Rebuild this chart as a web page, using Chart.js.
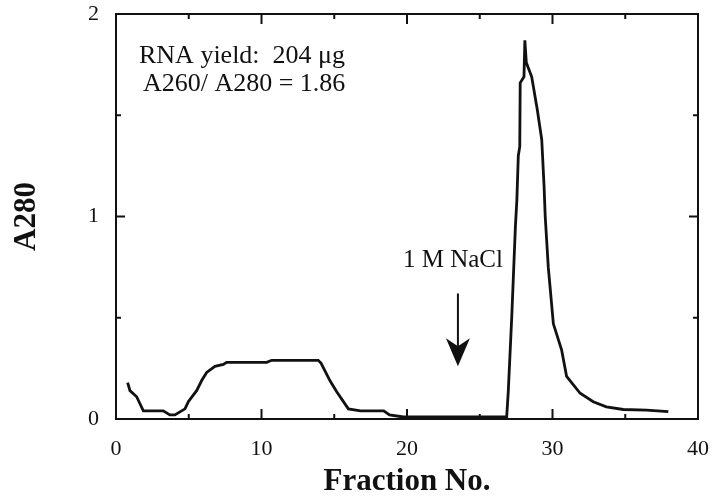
<!DOCTYPE html>
<html>
<head>
<meta charset="utf-8">
<script src="https://cdn.jsdelivr.net/npm/chart.js@4.4.1/dist/chart.umd.min.js"></script>
<style>
  html, body { margin: 0; padding: 0; background: #fff; }
  #wrap { width: 713px; height: 503px; }
</style>
</head>
<body>
<div id="wrap"><canvas id="chart"></canvas></div>
<script>
// fraction number / absorbance read from the elution profile
var fractionNo = [0.8, 0.96, 1.42, 1.88, 3.25, 3.7, 4.05, 4.74, 4.97, 5.54, 5.89, 6.23, 6.8, 7.38, 7.6,
  10.36, 10.7, 13.9, 14.1, 14.7, 15.17, 15.97, 16.8, 18.4, 18.8, 19.75, 26.85, 26.96, 27.2, 27.45,
  27.55, 27.65, 27.75, 27.78, 28.04, 28.1, 28.2, 28.57, 28.95, 29.26, 29.42, 29.5, 29.71, 30.06,
  30.63, 30.97, 31.9, 32.8, 33.7, 34.87, 36.47, 37.96];
var a280 = [0.18, 0.14, 0.11, 0.04, 0.04, 0.02, 0.02, 0.05, 0.085, 0.14, 0.19, 0.23, 0.26, 0.27, 0.28,
  0.28, 0.29, 0.29, 0.275, 0.19, 0.135, 0.05, 0.04, 0.04, 0.02, 0.01, 0.01, 0.135, 0.505, 0.95,
  1.08, 1.30, 1.345, 1.66, 1.69, 1.87, 1.76, 1.69, 1.53, 1.38, 1.15, 1.0, 0.75, 0.47,
  0.34, 0.21, 0.127, 0.085, 0.06, 0.047, 0.044, 0.036];

var xTicks = [0, 10, 20, 30, 40];
var yTicks = [0, 1, 2];
var infoLines = ["RNA yield:  204 \u03bcg", "A260/ A280 = 1.86"];
var saltLabel = "1 M NaCl";
var saltFraction = 23.5;

var points = fractionNo.map(function (f, i) { return { x: f, y: a280[i] }; });

var serif = "'Liberation Serif', 'Times New Roman', serif";

// frame, inward ticks, text notes and the arrow
var decorations = {
  id: "decorations",
  afterDraw: function (chart) {
    var ctx = chart.ctx;
    var a = chart.chartArea;
    var xs = chart.scales.x, ys = chart.scales.y;
    ctx.save();
    ctx.strokeStyle = "#111";
    ctx.lineWidth = 2;
    ctx.strokeRect(a.left, a.top, a.right - a.left, a.bottom - a.top);

    for (var v = 0; v <= 40; v += 5) {
      var px = xs.getPixelForValue(v);
      var len = v % 10 === 0 ? 10 : 5;
      ctx.beginPath();
      ctx.moveTo(px, a.bottom); ctx.lineTo(px, a.bottom - len);
      ctx.moveTo(px, a.top); ctx.lineTo(px, a.top + len);
      ctx.stroke();
    }
    for (var w = 0; w <= 2; w += 0.5) {
      var py = ys.getPixelForValue(w);
      var l2 = w % 1 === 0 ? 9 : 5;
      ctx.beginPath();
      ctx.moveTo(a.left, py); ctx.lineTo(a.left + l2, py);
      ctx.moveTo(a.right, py); ctx.lineTo(a.right - l2, py);
      ctx.stroke();
    }

    ctx.fillStyle = "#111";
    ctx.font = "26px " + serif;
    ctx.textAlign = "left";
    ctx.textBaseline = "alphabetic";
    ctx.fillText(infoLines[0], xs.getPixelForValue(1.58), ys.getPixelForValue(1.76));
    ctx.fillText(infoLines[1], xs.getPixelForValue(1.85), ys.getPixelForValue(1.62));

    ctx.font = "25px " + serif;
    ctx.textAlign = "center";
    var ax = xs.getPixelForValue(saltFraction);
    ctx.fillText(saltLabel, ax - 5, ys.getPixelForValue(0.75));

    var y0 = ys.getPixelForValue(0.62), y1 = ys.getPixelForValue(0.26);
    ctx.lineWidth = 2;
    ctx.beginPath();
    ctx.moveTo(ax, y0); ctx.lineTo(ax, y1 - 20);
    ctx.stroke();
    ctx.beginPath();
    ctx.moveTo(ax, y1);
    ctx.lineTo(ax - 12, y1 - 28);
    ctx.lineTo(ax, y1 - 20);
    ctx.lineTo(ax + 12, y1 - 28);
    ctx.closePath();
    ctx.fill();
    ctx.restore();
  }
};

new Chart(document.getElementById("chart"), {
  type: "line",
  data: {
    datasets: [{
      data: points,
      borderColor: "#111",
      borderWidth: 2.8,
      pointRadius: 0,
      tension: 0,
      fill: false
    }]
  },
  options: {
    responsive: true,
    maintainAspectRatio: false,
    animation: false,
    layout: { padding: { top: 14, right: 15, left: 0, bottom: 0 } },
    plugins: { legend: { display: false }, tooltip: { enabled: false } },
    scales: {
      x: {
        type: "linear",
        min: 0, max: 40,
        afterFit: function (s) { s.height = 84; s.paddingLeft = 0; s.paddingRight = 0; },
        grid: { display: false },
        border: { display: false },
        ticks: {
          stepSize: 10,
          padding: 9,
          color: "#111",
          font: { family: serif, size: 22 },
          callback: function (v) { return xTicks.indexOf(v) >= 0 ? String(v) : ""; }
        },
        title: {
          display: true,
          text: "Fraction No.",
          color: "#111",
          font: { family: serif, size: 31, weight: "bold" },
          padding: { top: 0, bottom: 2 }
        }
      },
      y: {
        min: 0, max: 2,
        afterFit: function (s) { s.width = 116; s.paddingTop = 0; s.paddingBottom = 0; },
        grid: { display: false },
        border: { display: false },
        ticks: {
          stepSize: 1,
          padding: 9,
          color: "#111",
          font: { family: serif, size: 22 },
          callback: function (v) { return yTicks.indexOf(v) >= 0 ? String(v) : ""; }
        },
        title: {
          display: true,
          text: "A280",
          color: "#111",
          font: { family: serif, size: 31, weight: "bold" },
          padding: { top: 8, bottom: 0 }
        }
      }
    }
  },
  plugins: [decorations]
});
</script>
</body>
</html>
